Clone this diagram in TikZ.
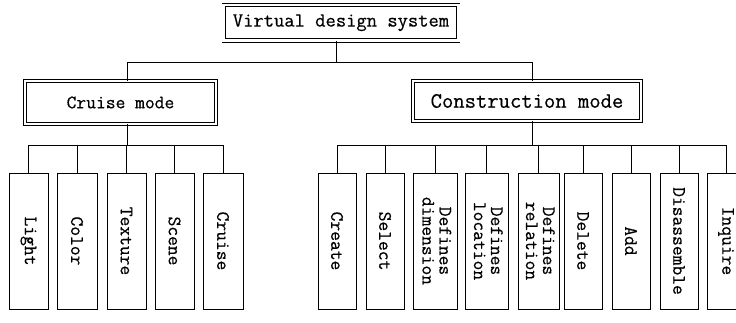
\documentclass[tikz,border=0pt]{standalone}
\usepackage{fontspec}
\usepackage{graphicx}
\newfontfamily\tyfont{Latin Modern Mono}[FakeBold=0.5]
\newcommand\fsmall{\fontsize{19}{20}\selectfont\tyfont}
\newcommand\fmid{\fontsize{20}{22}\selectfont\tyfont}
\newcommand\fbig{\fontsize{22}{24}\selectfont\tyfont}
\tikzset{
  dbox/.style={draw, double, double distance=2.6pt, line width=0.8pt, rectangle, inner sep=0pt},
  leaf/.style={draw, line width=0.9pt, rectangle, inner sep=0pt, minimum height=136pt, font=\fsmall},
  conn/.style={line width=0.9pt}
}
\begin{document}
\begin{tikzpicture}[x=1pt,y=-1pt]
\useasboundingbox (0,0) rectangle (736,322);
\clip (0,0) rectangle (736,322);
% top
\node[dbox, minimum width=234.5pt, minimum height=35.5pt, font=\fmid] (top) at (341,22.75) {Virtual design system};
\node[dbox, minimum width=191pt, minimum height=43pt, font=\fsmall] (cruise) at (120.5,102.5) {Cruise mode};
\node[dbox, minimum width=228pt, minimum height=40pt, font=\fbig] (cons) at (527,101) {Construction mode};
% leaves left
\node[leaf, minimum width=39pt] (light) at (28.5,241) {\rotatebox{-90}{Light}};
\node[leaf, minimum width=40pt] (color) at (77,241) {\rotatebox{-90}{Color}};
\node[leaf, minimum width=39pt] (texture) at (126.5,241) {\rotatebox{-90}{Texture}};
\node[leaf, minimum width=39pt] (scene) at (174.5,241) {\rotatebox{-90}{Scene}};
\node[leaf, minimum width=40pt] (cruiseleaf) at (223,241) {\rotatebox{-90}{Cruise}};
% leaves right
\node[leaf, minimum width=38pt] (create) at (337,241) {\rotatebox{-90}{Create}};
\node[leaf, minimum width=38pt] (select) at (385,241) {\rotatebox{-90}{Select}};
\node[leaf, minimum width=44pt] (defdim) at (435,241) {\rotatebox{-90}{\begin{tabular}{@{}c@{}}Defines\\[-3pt]dimension\end{tabular}}};
\node[leaf, minimum width=43pt] (defloc) at (486.5,241) {\rotatebox{-90}{\begin{tabular}{@{}c@{}}Defines\\[-3pt]location\end{tabular}}};
\node[leaf, minimum width=41pt] (defrel) at (538.5,241) {\rotatebox{-90}{\begin{tabular}{@{}c@{}}Defines\\[-3pt]relation\end{tabular}}};
\node[leaf, minimum width=38pt] (delete) at (583,241) {\rotatebox{-90}{Delete}};
\node[leaf, minimum width=38pt] (add) at (631,241) {\rotatebox{-90}{Add}};
\node[leaf, minimum width=38pt] (disas) at (679,241) {\rotatebox{-90}{Disassemble}};
\node[leaf, minimum width=38pt] (inquire) at (726,241) {\rotatebox{-90}{Inquire}};
% connectors
\coordinate (t0) at (336,62);
\coordinate (b1) at (127,62);
\coordinate (b2) at (532,62);
\coordinate (lb) at (127,145);
\coordinate (rb) at (532,145);
\draw[conn] (top.south -| t0) -- (t0);
\draw[conn] (cruise.north -| b1) -- (b1) -- (b2) -- (cons.north -| b2);
\draw[conn] (cruise.south -| lb) -- (lb);
\draw[conn] (cons.south -| rb) -- (rb);
\draw[conn] (light.north |- lb) -- (cruiseleaf.north |- lb);
\foreach \n in {light,color,texture,scene,cruiseleaf}
  \draw[conn] (\n.north) -- (\n.north |- lb);
\draw[conn] (create.north |- rb) -- (inquire.north |- rb);
\foreach \n in {create,select,defdim,defloc,defrel,delete,add,disas,inquire}
  \draw[conn] (\n.north) -- (\n.north |- rb);
\end{tikzpicture}
\end{document}
